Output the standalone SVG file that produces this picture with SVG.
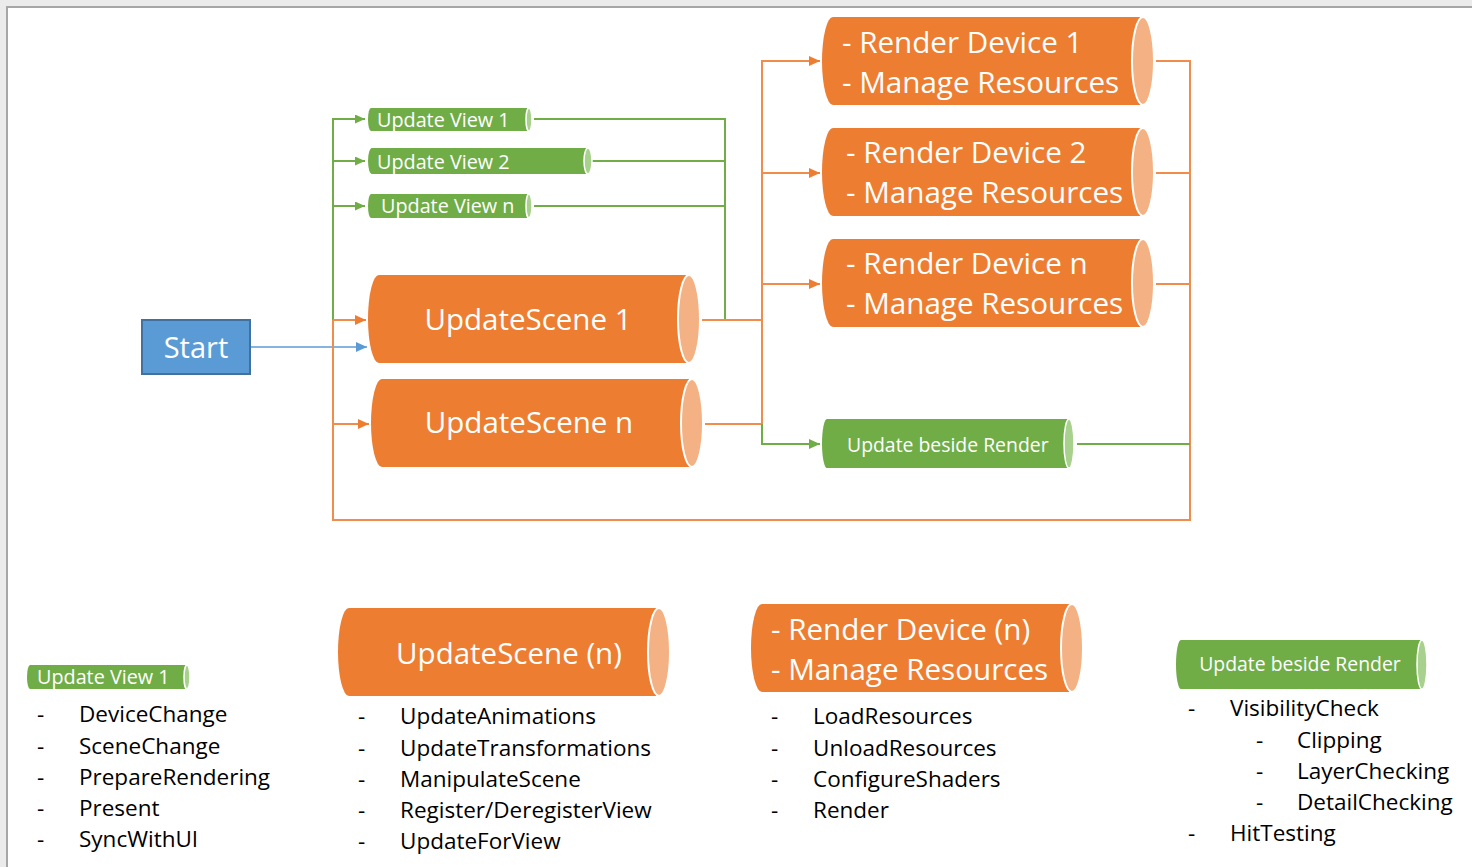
<svg xmlns="http://www.w3.org/2000/svg" width="1472" height="867" viewBox="0 0 1472 867">
<defs>
<style>
.og{fill:#ed7d31}
.ogE{fill:#f4b183;stroke:#fff;stroke-width:2}
.gr{fill:#70ad47}
.grE{fill:#a9d18e;stroke:#fff;stroke-width:1.5}
.wt{fill:#fff;font-family:"Open Sans","Noto Sans",sans-serif}
.bk{fill:#000;font-family:"Open Sans","Noto Sans",sans-serif;font-size:22.5px}
.lo{fill:none;stroke:#f08c4c;stroke-width:2}
.lg{fill:none;stroke:#70ad47;stroke-width:2}
.lb{fill:none;stroke:#5b9bd5;stroke-width:1.5}
</style>
<marker id="ao" markerUnits="userSpaceOnUse" markerWidth="12" markerHeight="10" refX="11" refY="5" orient="auto"><path d="M0,0 L11,5 L0,10 Z" fill="#ed7d31"/></marker>
<marker id="ag" markerUnits="userSpaceOnUse" markerWidth="12" markerHeight="10" refX="11" refY="5" orient="auto"><path d="M0,0 L11,5 L0,10 Z" fill="#70ad47"/></marker>
<marker id="ags" markerUnits="userSpaceOnUse" markerWidth="11" markerHeight="9" refX="10" refY="4.5" orient="auto"><path d="M0,0 L10,4.5 L0,9 Z" fill="#70ad47"/></marker>
<marker id="ab" markerUnits="userSpaceOnUse" markerWidth="12" markerHeight="10" refX="11" refY="5" orient="auto"><path d="M0,0 L11,5 L0,10 Z" fill="#5b9bd5"/></marker>
</defs>
<rect x="0" y="0" width="1472" height="867" fill="#ebebeb"/>
<rect x="7" y="7" width="1465" height="860" fill="#fff"/>
<path d="M7,867 V7 H1472" fill="none" stroke="#a6a6a6" stroke-width="2"/>

<g id="connectors">
<path class="lg" d="M333,320 V119 H365" marker-end="url(#ags)"/>
<path class="lg" d="M333,161 H365" marker-end="url(#ags)"/>
<path class="lg" d="M333,206 H365" marker-end="url(#ags)"/>
<path class="lo" d="M333,320 H366" marker-end="url(#ao)"/>
<path class="lo" d="M333,424 H369" marker-end="url(#ao)"/>
<path class="lb" d="M250,347 H367" marker-end="url(#ab)"/>
<path class="lg" d="M534,119 H725 V320"/>
<path class="lg" d="M592,161 H725"/>
<path class="lg" d="M534,206 H725"/>
<path class="lo" d="M702,320 H762"/>
<path class="lo" d="M705,424 H762"/>
<path class="lo" d="M762,424 V61 H820" marker-end="url(#ao)"/>
<path class="lo" d="M762,173 H820" marker-end="url(#ao)"/>
<path class="lo" d="M762,284 H820" marker-end="url(#ao)"/>
<path class="lg" d="M762,424 V444 H820" marker-end="url(#ag)"/>
<path class="lo" d="M1156,61 H1190 V520 H333 V320"/>
<path class="lo" d="M1156,173 H1190"/>
<path class="lo" d="M1156,284 H1190"/>
<path class="lg" d="M1077,444 H1190" stroke="#8cc46a"/>
</g>

<g id="start">
<rect x="142" y="320" width="108" height="54" fill="#5b9bd5" stroke="#41719c" stroke-width="2"/>
<text class="wt" x="196" y="358" font-size="29" text-anchor="middle">Start</text>
</g>

<g id="update-view-1">
<path class="gr" d="M371,108 H529 A3,11.5 0 0 1 529,131 H371 A3,11.5 0 0 1 371,108 Z"/>
<ellipse class="grE" cx="529" cy="119.5" rx="3" ry="11.5"/>
<text class="wt" x="377" y="127" font-size="19.8">Update View 1</text>
</g>
<g id="update-view-2">
<path class="gr" d="M372,148 H588 A4,13 0 0 1 588,174 H372 A4,13 0 0 1 372,148 Z"/>
<ellipse class="grE" cx="588" cy="161" rx="4" ry="13"/>
<text class="wt" x="377" y="169" font-size="19.8">Update View 2</text>
</g>
<g id="update-view-n">
<path class="gr" d="M371,194 H529 A3,12 0 0 1 529,218 H371 A3,12 0 0 1 371,194 Z"/>
<ellipse class="grE" cx="529" cy="206" rx="3" ry="12"/>
<text class="wt" x="381" y="213" font-size="19.8">Update View n</text>
</g>

<g id="update-scene-1">
<path class="og" d="M379,275 H689 A11,44 0 0 1 689,363 H379 A11,44 0 0 1 379,275 Z"/>
<ellipse class="ogE" cx="689" cy="319" rx="11" ry="44"/>
<text class="wt" x="528" y="330" font-size="29.5" text-anchor="middle">UpdateScene 1</text>
</g>
<g id="update-scene-n">
<path class="og" d="M382,379 H692 A11,44 0 0 1 692,467 H382 A11,44 0 0 1 382,379 Z"/>
<ellipse class="ogE" cx="692" cy="423" rx="11" ry="44"/>
<text class="wt" x="529" y="433" font-size="29.5" text-anchor="middle">UpdateScene n</text>
</g>

<g id="render-device-1">
<path class="og" d="M833,17 H1143 A11,44 0 0 1 1143,105 H833 A11,44 0 0 1 833,17 Z"/>
<ellipse class="ogE" cx="1143" cy="61" rx="11" ry="44"/>
<text class="wt" x="842" y="53" font-size="29.6">- Render Device 1</text>
<text class="wt" x="842" y="93" font-size="29.6">- Manage Resources</text>
</g>
<g id="render-device-2">
<path class="og" d="M833,128 H1143 A11,44 0 0 1 1143,216 H833 A11,44 0 0 1 833,128 Z"/>
<ellipse class="ogE" cx="1143" cy="172" rx="11" ry="44"/>
<text class="wt" x="846" y="163" font-size="29.6">- Render Device 2</text>
<text class="wt" x="846" y="203" font-size="29.6">- Manage Resources</text>
</g>
<g id="render-device-n">
<path class="og" d="M833,239 H1143 A11,44 0 0 1 1143,327 H833 A11,44 0 0 1 833,239 Z"/>
<ellipse class="ogE" cx="1143" cy="283" rx="11" ry="44"/>
<text class="wt" x="846" y="274" font-size="29.6">- Render Device n</text>
<text class="wt" x="846" y="314" font-size="29.6">- Manage Resources</text>
</g>
<g id="update-beside-render">
<path class="gr" d="M827,419 H1069 A5,24.5 0 0 1 1069,468 H827 A5,24.5 0 0 1 827,419 Z"/>
<ellipse class="grE" cx="1069" cy="443.5" rx="5" ry="24.5"/>
<text class="wt" x="847" y="452" font-size="19.4">Update beside Render</text>
</g>

<g id="legend-update-view">
<path class="gr" d="M30,665 H187 A3,12 0 0 1 187,689 H30 A3,12 0 0 1 30,665 Z"/>
<ellipse class="grE" cx="187" cy="677" rx="3" ry="12"/>
<text class="wt" x="37" y="684" font-size="19.8">Update View 1</text>
<text class="bk" x="37" y="722">-</text><text class="bk" x="79" y="722">DeviceChange</text>
<text class="bk" x="37" y="754">-</text><text class="bk" x="79" y="754">SceneChange</text>
<text class="bk" x="37" y="785">-</text><text class="bk" x="79" y="785">PrepareRendering</text>
<text class="bk" x="37" y="816">-</text><text class="bk" x="79" y="816">Present</text>
<text class="bk" x="37" y="847">-</text><text class="bk" x="79" y="847">SyncWithUI</text>
</g>

<g id="legend-update-scene">
<path class="og" d="M349,608 H659 A11,44 0 0 1 659,696 H349 A11,44 0 0 1 349,608 Z"/>
<ellipse class="ogE" cx="659" cy="652" rx="11" ry="44"/>
<text class="wt" x="509" y="664" font-size="29.5" text-anchor="middle">UpdateScene (n)</text>
<text class="bk" x="358" y="724">-</text><text class="bk" x="400" y="724">UpdateAnimations</text>
<text class="bk" x="358" y="756">-</text><text class="bk" x="400" y="756">UpdateTransformations</text>
<text class="bk" x="358" y="787">-</text><text class="bk" x="400" y="787">ManipulateScene</text>
<text class="bk" x="358" y="818">-</text><text class="bk" x="400" y="818">Register/DeregisterView</text>
<text class="bk" x="358" y="849">-</text><text class="bk" x="400" y="849">UpdateForView</text>
</g>

<g id="legend-render-device">
<path class="og" d="M762,604 H1072 A11,44 0 0 1 1072,692 H762 A11,44 0 0 1 762,604 Z"/>
<ellipse class="ogE" cx="1072" cy="648" rx="11" ry="44"/>
<text class="wt" x="771" y="640" font-size="29.6">- Render Device (n)</text>
<text class="wt" x="771" y="680" font-size="29.6">- Manage Resources</text>
<text class="bk" x="771" y="724">-</text><text class="bk" x="813" y="724">LoadResources</text>
<text class="bk" x="771" y="756">-</text><text class="bk" x="813" y="756">UnloadResources</text>
<text class="bk" x="771" y="787">-</text><text class="bk" x="813" y="787">ConfigureShaders</text>
<text class="bk" x="771" y="818">-</text><text class="bk" x="813" y="818">Render</text>
</g>

<g id="legend-update-beside-render">
<path class="gr" d="M1181,640 H1422 A5,24.5 0 0 1 1422,689 H1181 A5,24.5 0 0 1 1181,640 Z"/>
<ellipse class="grE" cx="1422" cy="664.5" rx="5" ry="24.5"/>
<text class="wt" x="1300" y="671" font-size="19.4" text-anchor="middle">Update beside Render</text>
<text class="bk" x="1188" y="716">-</text><text class="bk" x="1230" y="716">VisibilityCheck</text>
<text class="bk" x="1256" y="748">-</text><text class="bk" x="1297" y="748">Clipping</text>
<text class="bk" x="1256" y="779">-</text><text class="bk" x="1297" y="779">LayerChecking</text>
<text class="bk" x="1256" y="810">-</text><text class="bk" x="1297" y="810">DetailChecking</text>
<text class="bk" x="1188" y="841">-</text><text class="bk" x="1230" y="841">HitTesting</text>
</g>
</svg>
